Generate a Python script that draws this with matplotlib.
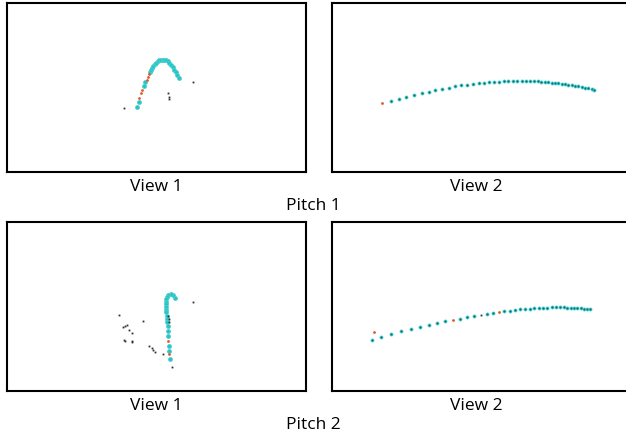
"""
Ball-track views for two pitches: tracked points (cyan), key points (orange),
stray detections (black), drawn in reference-image pixel coordinates.
"""

import matplotlib
matplotlib.use("Agg")
import matplotlib.pyplot as plt

W, H = 626, 439
_CYAN_EDGE = "#45d2d2"
_CYAN_FACE = "#1b6e70"
_ORANGE = "#e0592a"
_BLACK = "#303030"

# ---- Pitch 1, View 1 ----
p1v1_track_x = [136.7, 138.7, 143.7, 145.0, 150.0, 151.0, 152.0, 153.3, 154.7, 156.0,
                157.7, 159.3, 161.0, 162.7, 164.3, 166.0, 167.7, 169.3, 171.0, 172.7,
                174.3, 176.0, 177.3, 178.7]
p1v1_track_y = [108.3, 103.3, 86.7, 83.3, 73.3, 71.0, 69.0, 67.0, 65.3, 63.7,
                62.3, 61.3, 60.7, 60.7, 60.7, 61.3, 62.3, 63.7, 65.7, 68.0,
                70.7, 73.3, 76.0, 78.7]
p1v1_key_x = [139.3, 140.7, 142.3, 146.7, 148.0, 149.3]
p1v1_key_y = [99.3, 94.3, 90.7, 80.7, 77.7, 74.7]
p1v1_noise_x = [124.0, 168.0, 168.7, 169.0, 192.7]
p1v1_noise_y = [109.3, 94.0, 98.3, 100.0, 83.3]

# ---- Pitch 1, View 2 ----
p1v2_track_x = [390.7, 398.7, 406.0, 414.0, 421.7, 428.7, 435.3, 442.0, 448.7, 455.0,
                461.0, 467.0, 473.0, 478.7, 484.0, 489.0, 494.0, 499.0, 503.7, 508.3,
                513.0, 517.3, 521.7, 525.7, 529.7, 533.7, 537.7, 541.3, 545.0, 548.3,
                551.7, 555.0, 558.3, 561.7, 565.0, 568.3, 571.7, 575.0, 578.3, 581.7,
                585.0, 588.3, 591.7, 594.0]
p1v2_track_y = [102.3, 100.0, 98.0, 96.0, 94.3, 93.0, 91.3, 90.0, 88.7, 87.3,
                86.3, 85.7, 85.0, 84.3, 83.7, 83.3, 83.0, 82.7, 82.3, 82.3,
                82.0, 82.0, 82.0, 82.0, 82.0, 82.0, 82.3, 82.7, 83.0, 83.3,
                83.7, 84.0, 84.3, 84.7, 85.3, 85.7, 86.3, 86.7, 87.3, 88.0,
                88.7, 89.3, 90.3, 91.0]
p1v2_key_x = [381.7]
p1v2_key_y = [104.3]

# ---- Pitch 2, View 1 ----
p2v1_track_x = [175.3, 173.3, 170.7, 168.3, 166.7, 166.0, 165.7, 165.7, 165.7, 166.0,
                166.3, 166.7, 167.0, 167.3, 167.7, 168.0, 168.3, 168.7, 169.0, 169.7]
p2v1_track_y = [299.0, 296.0, 295.0, 295.7, 297.7, 300.0, 302.7, 305.3, 308.0, 310.7,
                313.3, 316.7, 320.0, 323.3, 327.3, 331.7, 336.7, 346.7, 351.7, 360.0]
p2v1_key_x = [168.0, 169.3]
p2v1_key_y = [342.3, 355.0]
p2v1_noise_x = [192.7, 119.3, 142.7, 123.3, 125.0, 126.7, 128.7, 131.7, 124.0, 125.0,
                131.7, 132.3, 149.3, 151.7, 153.3, 155.3, 163.3, 171.7, 168.3, 169.0,
                169.3]
p2v1_noise_y = [302.7, 315.7, 321.7, 328.3, 327.3, 326.0, 331.0, 334.0, 340.7, 341.7,
                341.7, 343.3, 346.7, 349.0, 351.0, 353.0, 355.0, 368.3, 316.7, 320.0,
                323.3]

# ---- Pitch 2, View 2 ----
p2v2_track_x = [372.3, 381.0, 391.0, 401.0, 410.7, 420.0, 428.7, 437.3, 445.3, 459.7,
                467.0, 474.0, 486.7, 492.7, 504.3, 509.7, 515.0, 520.0, 525.0, 530.0,
                534.3, 538.7, 543.0, 547.3, 551.7, 555.7, 559.7, 563.7, 567.3, 570.7,
                574.0, 577.3, 580.7, 584.0, 587.3, 590.0]
p2v2_track_y = [341.0, 337.7, 335.0, 332.3, 330.0, 327.7, 325.7, 324.0, 322.3, 319.7,
                318.3, 317.0, 314.7, 314.0, 312.3, 311.7, 311.0, 310.3, 310.0, 309.7,
                309.3, 309.0, 308.7, 308.7, 308.3, 308.3, 308.3, 308.3, 308.7, 308.7,
                309.0, 309.0, 309.3, 309.7, 310.0, 310.3]
p2v2_key_x = [452.7, 498.7, 374.0]
p2v2_key_y = [321.0, 313.3, 333.3]
p2v2_noise_x = [480.7]
p2v2_noise_y = [315.7]

view_labels = ["View 1", "View 2"]
pitch_labels = ["Pitch 1", "Pitch 2"]

panels = [
    (p1v1_track_x, p1v1_track_y, p1v1_key_x, p1v1_key_y, p1v1_noise_x, p1v1_noise_y),
    (p1v2_track_x, p1v2_track_y, p1v2_key_x, p1v2_key_y, [], []),
    (p2v1_track_x, p2v1_track_y, p2v1_key_x, p2v1_key_y, p2v1_noise_x, p2v1_noise_y),
    (p2v2_track_x, p2v2_track_y, p2v2_key_x, p2v2_key_y, p2v2_noise_x, p2v2_noise_y),
]

# panel frames in pixels: (left, top, right, bottom)
frames = [
    (6.5, 4.0, 305.5, 173.0),
    (331.5, 4.0, 630.5, 173.0),
    (6.5, 223.0, 305.5, 392.0),
    (331.5, 223.0, 630.5, 392.0),
]

plt.rcParams["font.family"] = ["Open Sans", "DejaVu Sans"]
fig = plt.figure(figsize=(W / 100, H / 100), dpi=100)

for i, ((tx, ty, kx, ky, nx, ny), (l, t, r, b)) in enumerate(zip(panels, frames)):
    ax = fig.add_axes([l / W, 1 - b / H, (r - l) / W, (b - t) / H])
    if i in (0, 2):
        ax.plot(tx, ty, ls="none", marker="o", ms=2.8, mfc="#2cc0c0", mec=_CYAN_EDGE, mew=0.6)
    else:
        ax.plot(tx, ty, ls="none", marker="o", ms=2.2, mfc=_CYAN_FACE, mec=_CYAN_EDGE, mew=0.6)
    ax.plot(kx, ky, ls="none", marker="o", ms=2.0, mfc=_ORANGE, mec=_ORANGE, mew=0)
    ax.plot(nx, ny, ls="none", marker="s", ms=1.3, mfc=_BLACK, mec=_BLACK, mew=0)
    ax.set_xlim(l, r)
    ax.set_ylim(b, t)
    ax.set_xticks([])
    ax.set_yticks([])
    for s in ax.spines.values():
        s.set_linewidth(1.5)
        s.set_color("black")
    cx = (l + min(r, 621)) / 2
    fig.text(cx / W, 1 - (b + 14) / H, view_labels[i % 2], ha="center", va="center",
             fontsize=12.5)
    if i % 2 == 1:
        fig.text(313 / W, 1 - (b + 33) / H, pitch_labels[i // 2], ha="center",
                 va="center", fontsize=12.5)

fig.savefig("out.png", dpi=100)
